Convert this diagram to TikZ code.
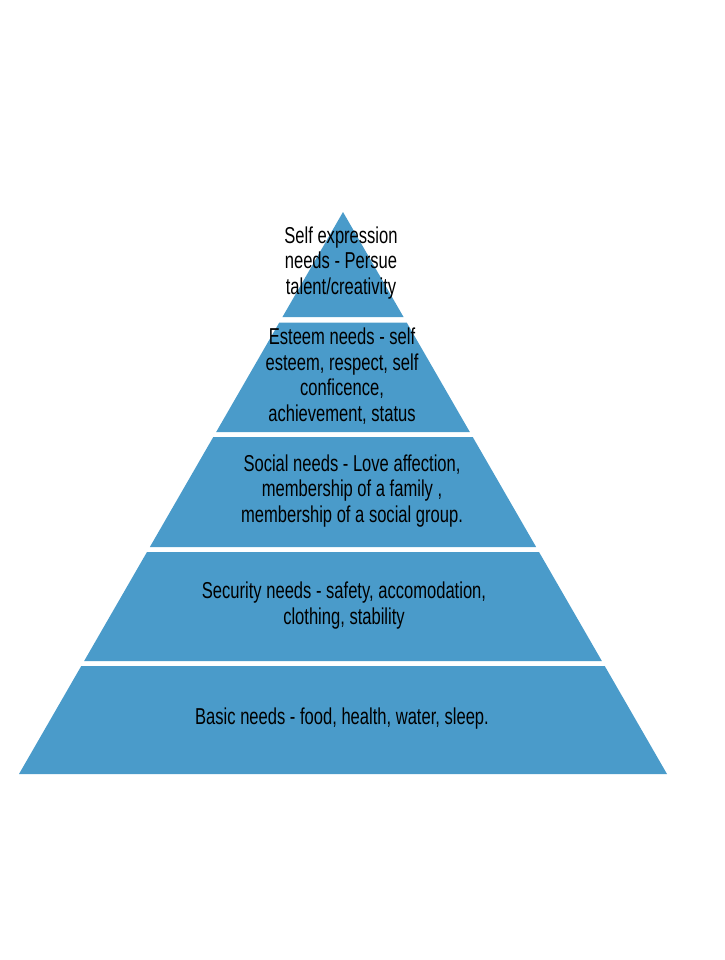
\documentclass[tikz,border=0pt]{standalone}
\usepackage{fontspec}
\setmainfont{Liberation Sans}[FakeStretch=0.72]
\usepackage{tikz}
\definecolor{tierblue}{RGB}{74,155,202}

\begin{document}
\begin{tikzpicture}[
        x=1pt, y=-1pt,
        every node/.style={align=center, inner sep=0pt, text=black,
            font=\fontsize{23}{25.5}\selectfont},
        tier/.style={fill=tierblue, draw=none}
    ]

    \useasboundingbox (0,0) rectangle (724,960);

    % Tiers
    \foreach \ya/\yb in {212/317, 322.5/432, 437/547, 552/661, 666/774}
      \fill[tier] ({343-0.5765*(\ya-212)},\ya) -- ({343+0.5765*(\ya-212)},\ya)
        -- ({343+0.5765*(\yb-212)},\yb) -- ({343-0.5765*(\yb-212)},\yb) -- cycle;

    % Nodes
    \node (selfexpr) at (341,263) {Self expression \\
        needs - Persue \\
        talent/creativity};

    \node (esteem) at (342,376) {Esteem needs - self \\
        esteem, respect, self \\
        conficence, \\
        achievement, status};

    \node (social) at (352,491) {Social needs - Love affection, \\
        membership of a family , \\
        membership of a social group.};

    \node (security) at (344,605.5) {Security needs - safety, accomodation, \\
        clothing, stability};

    \node (basic) at (342,719) {Basic needs - food, health, water, sleep.};

\end{tikzpicture}
\end{document}
